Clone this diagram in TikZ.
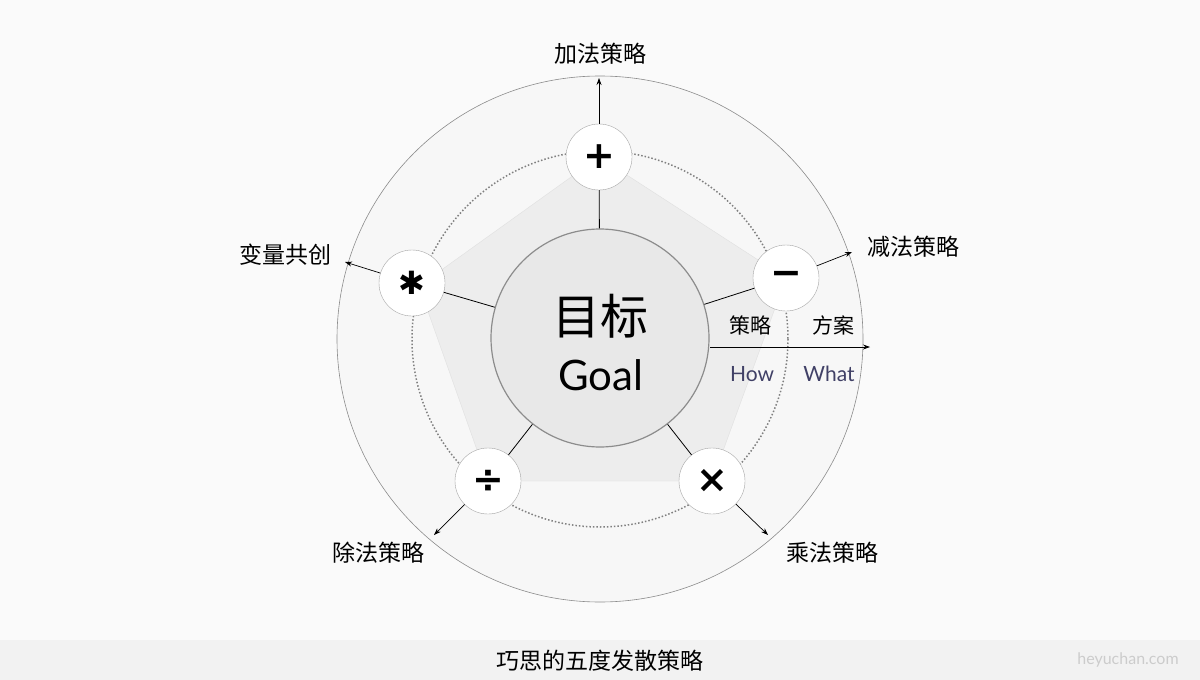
\documentclass[tikz,border=0pt]{standalone}
\usepackage{fontspec}
\setmainfont{Lato}
\newfontfamily\cjk{Noto Sans CJK SC}
\newfontfamily\symf{DejaVu Sans}
\usetikzlibrary{arrows.meta}
\begin{document}
\begin{tikzpicture}[x=1pt,y=-1pt,
  op/.style={circle,draw=black!35,fill=white,minimum size=66pt,inner sep=0pt,font=\symf\bfseries\fontsize{38}{38}\selectfont},
  lbl/.style={font=\cjk\fontsize{23}{23}\selectfont,inner sep=1pt},
  arr/.style={-{Stealth[length=7pt,width=5pt]},line width=0.7pt},
  spoke/.style={line width=0.8pt}]
\useasboundingbox (0,0) rectangle (1200,680);
\fill[white!98!black] (0,0) rectangle (1200,640);
\fill[black!5] (0,640) rectangle (1200,680);
\node[font=\cjk\fontsize{23}{23}\selectfont] (cap) at (600,661) {巧思的五度发散策略};
\node[font=\fontsize{16}{16}\selectfont,text=black!20] (wm) at (1128,660) {heyuchan.com};
\node[circle,draw=black!45,fill=black!3,minimum size=526pt,line width=0.6pt] (big) at (600,339) {};
\draw[black!50,dotted,line width=1.5pt] (600,339) circle (188);
\coordinate (pa) at (599,157); \coordinate (pb) at (786,278); \coordinate (pc) at (712,481);
\coordinate (pd) at (488,481); \coordinate (pe) at (419,286);
\fill[black!7,draw=black!12] (pa)--(pb)--(pc)--(pd)--(pe)--cycle;
\node[circle,draw=black!45,fill=black!9,minimum size=218pt,line width=1.2pt] (goal) at (600,338) {};
\node[font=\cjk\fontsize{48}{48}\selectfont] (mb) at (600,316) {目标};
\node[font=\fontsize{42}{42}\selectfont] (en) at (601,375) {Goal};
\node[op] (plus) at (pa) {+};
\node[op] (minus) at (pb) {−};
\node[op] (times) at (pc) {×};
\node[op] (div) at (pd) {÷};
\node[op,font=\symf\fontsize{32}{32}\selectfont] (star) at (412,283) {✱};
\draw[spoke] (goal) -- (plus);
\draw[spoke] (goal) -- (minus);
\draw[spoke] (goal) -- (times);
\draw[spoke] (goal) -- (div);
\draw[spoke] (goal) -- (star);
\coordinate (ea) at (599,78); \coordinate (eb) at (852,252); \coordinate (ec) at (768,535);
\coordinate (ed) at (434,535); \coordinate (ee) at (345,262);
\draw[arr] (plus) -- (ea);
\draw[arr] (minus) -- (eb);
\draw[arr] (times) -- (ec);
\draw[arr] (div) -- (ed);
\draw[arr] (star) -- (ee);
\node[lbl] (la) at (600,54) {加法策略};
\node[lbl] (lb) at (913,247) {减法策略};
\node[lbl] (lc) at (832,553) {乘法策略};
\node[lbl] (ld) at (378,553) {除法策略};
\node[lbl] (le) at (285,255) {变量共创};
\coordinate (hs) at (710,347); \coordinate (he) at (870,347);
\draw[arr] (hs) -- (he);
\node[lbl,font=\cjk\fontsize{21}{21}\selectfont] (how1) at (750,325) {策略};
\node[lbl,font=\cjk\fontsize{21}{21}\selectfont] (what1) at (833,325) {方案};
\node[font=\fontsize{21}{21}\selectfont,text=blue!20!black!75] (how) at (752,374) {How};
\node[font=\fontsize{21}{21}\selectfont,text=blue!20!black!75] (what) at (829,374) {What};
\end{tikzpicture}
\end{document}
